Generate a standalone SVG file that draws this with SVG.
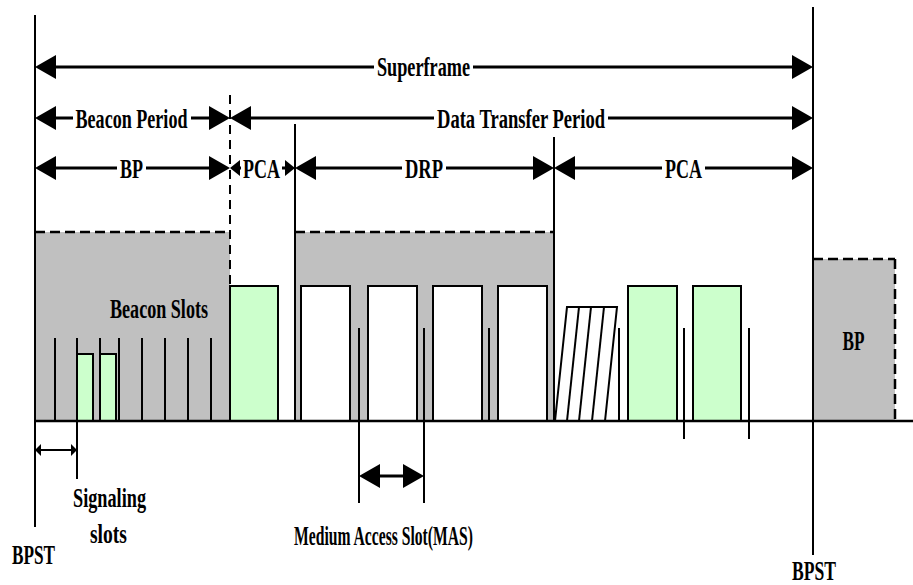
<svg xmlns="http://www.w3.org/2000/svg" width="913" height="585" viewBox="0 0 913 585">
<style>
.t{font-family:"Liberation Serif","Times New Roman",serif;font-weight:bold;font-size:28px;fill:#000;text-anchor:middle}
.ln{stroke:#000;stroke-width:2;fill:none}
.dash{stroke:#000;stroke-width:2.5;stroke-dasharray:10,5;fill:none}
.gray{fill:#c0c0c0;stroke:none}
.green{fill:#ccffcc;stroke:#000;stroke-width:2}
.white{fill:#fff;stroke:#000;stroke-width:2}
.arr{stroke:#000;stroke-width:3;fill:none;marker-start:url(#big);marker-end:url(#big)}
.arrs{stroke:#000;stroke-width:3;fill:none;marker-start:url(#small);marker-end:url(#small)}
.arrt{stroke:#000;stroke-width:2;fill:none;marker-start:url(#tiny);marker-end:url(#tiny)}
.bg{fill:#fff;stroke:none}
</style>
<defs>
<marker id="big" markerUnits="userSpaceOnUse" markerWidth="21" markerHeight="24" refX="15" refY="12" orient="auto-start-reverse"><path d="M0,0 L21,12 L0,24 Z" fill="#000"/></marker>
<marker id="small" markerUnits="userSpaceOnUse" markerWidth="10" markerHeight="16" refX="7" refY="8" orient="auto-start-reverse"><path d="M0,0 L10,8 L0,16 Z" fill="#000"/></marker>
<marker id="tiny" markerUnits="userSpaceOnUse" markerWidth="6" markerHeight="12" refX="4" refY="6" orient="auto-start-reverse"><path d="M0,0 L6,6 L0,12 Z" fill="#000"/></marker>
</defs>

<g id="beacon-period-block">
<rect class="gray" x="35" y="232" width="195" height="189"/>
<line class="dash" x1="35" y1="232" x2="230" y2="232"/>
<g id="slot-lines">
<line class="ln" x1="55" y1="338" x2="55" y2="421"/>
<line class="ln" x1="77" y1="338" x2="77" y2="479"/>
<line class="ln" x1="100" y1="338" x2="100" y2="421"/>
<line class="ln" x1="119" y1="338" x2="119" y2="421"/>
<line class="ln" x1="142" y1="338" x2="142" y2="421"/>
<line class="ln" x1="165" y1="338" x2="165" y2="421"/>
<line class="ln" x1="188" y1="338" x2="188" y2="421"/>
<line class="ln" x1="211" y1="338" x2="211" y2="421"/>
</g>
<rect class="green" x="77" y="354" width="16" height="67"/>
<rect class="green" x="100" y="354" width="16" height="67"/>
<text class="t" x="159" y="318" textLength="98" lengthAdjust="spacingAndGlyphs">Beacon Slots</text>
</g>

<g id="pca-block-1">
<rect class="green" x="230" y="286" width="48" height="135"/>
</g>

<g id="drp-block">
<rect class="gray" x="295" y="232" width="259" height="189"/>
<line class="dash" x1="295" y1="232" x2="554" y2="232"/>
<rect class="white" x="301" y="286" width="49" height="135"/>
<rect class="white" x="368" y="286" width="49" height="135"/>
<rect class="white" x="433" y="286" width="49" height="135"/>
<rect class="white" x="498" y="286" width="49" height="135"/>
<line class="ln" x1="359" y1="328" x2="359" y2="503"/>
<line class="ln" x1="424" y1="328" x2="424" y2="503"/>
<line class="ln" x1="489" y1="328" x2="489" y2="421"/>
</g>

<g id="pca-block-2">
<polygon class="white" points="555,421 567,307 617,307 605,421"/>
<line class="ln" x1="567" y1="421" x2="579" y2="307"/>
<line class="ln" x1="579" y1="421" x2="591" y2="307"/>
<line class="ln" x1="592" y1="421" x2="604" y2="307"/>
<line class="ln" x1="619" y1="328" x2="619" y2="421"/>
<rect class="green" x="628" y="286" width="49" height="135"/>
<rect class="green" x="693" y="286" width="48" height="135"/>
<line class="ln" x1="684" y1="328" x2="684" y2="439"/>
<line class="ln" x1="749" y1="328" x2="749" y2="439"/>
</g>

<g id="next-bp-block">
<rect class="gray" x="813" y="259" width="82" height="162"/>
<line class="dash" x1="813" y1="259" x2="895" y2="259"/>
<line class="dash" x1="895" y1="259" x2="895" y2="421"/>
<text class="t" x="853.5" y="350" textLength="22" lengthAdjust="spacingAndGlyphs">BP</text>
</g>

<g id="frame-lines">
<line class="ln" x1="35" y1="15" x2="35" y2="527"/>
<line class="ln" x1="813" y1="7" x2="813" y2="555"/>
<line class="dash" x1="230" y1="95" x2="230" y2="286" style="stroke-dasharray:9,6;stroke-width:2"/>
<line class="ln" x1="295" y1="124" x2="295" y2="421"/>
<line class="ln" x1="554" y1="137" x2="554" y2="421"/>
<line x1="35" y1="421" x2="913" y2="421" stroke="#000" stroke-width="2.5"/>
</g>

<g id="connectors">
<line class="arr" x1="41" y1="67" x2="807" y2="67"/>
<line class="arr" x1="41" y1="118" x2="224" y2="118"/>
<line class="arr" x1="236" y1="118" x2="807" y2="118"/>
<line class="arr" x1="41" y1="168" x2="224" y2="168"/>
<line class="arrs" x1="233" y1="168" x2="292" y2="168"/>
<line class="arr" x1="301" y1="168" x2="548" y2="168"/>
<line class="arr" x1="560" y1="168" x2="807" y2="168"/>
<line class="arrt" x1="37" y1="450" x2="75" y2="450"/>
<line class="arr" x1="365" y1="476" x2="418" y2="476"/>
</g>

<g id="labels">
<rect class="bg" x="374" y="63" width="99" height="8"/>
<text class="t" x="423.5" y="76" textLength="93" lengthAdjust="spacingAndGlyphs">Superframe</text>
<rect class="bg" x="73" y="114" width="118" height="8"/>
<text class="t" x="131.5" y="128" textLength="112" lengthAdjust="spacingAndGlyphs">Beacon Period</text>
<rect class="bg" x="434" y="114" width="174" height="8"/>
<text class="t" x="521" y="128" textLength="168" lengthAdjust="spacingAndGlyphs">Data Transfer Period</text>
<rect class="bg" x="117" y="164" width="29" height="8"/>
<text class="t" x="131.5" y="178" textLength="23" lengthAdjust="spacingAndGlyphs">BP</text>
<rect class="bg" x="241" y="164" width="41" height="8"/>
<text class="t" x="261.5" y="178" textLength="37" lengthAdjust="spacingAndGlyphs">PCA</text>
<rect class="bg" x="402" y="164" width="44" height="8"/>
<text class="t" x="424" y="178" textLength="38" lengthAdjust="spacingAndGlyphs">DRP</text>
<rect class="bg" x="662" y="164" width="43" height="8"/>
<text class="t" x="683.5" y="178" textLength="37" lengthAdjust="spacingAndGlyphs">PCA</text>
<text class="t" x="109.5" y="507" textLength="73" lengthAdjust="spacingAndGlyphs">Signaling</text>
<text class="t" x="108.5" y="543" textLength="37" lengthAdjust="spacingAndGlyphs">slots</text>
<text class="t" x="33.5" y="564" textLength="43" lengthAdjust="spacingAndGlyphs">BPST</text>
<text class="t" x="383.5" y="545" textLength="179" lengthAdjust="spacingAndGlyphs">Medium Access Slot(MAS)</text>
<text class="t" x="814" y="580" textLength="44" lengthAdjust="spacingAndGlyphs">BPST</text>
</g>
</svg>
